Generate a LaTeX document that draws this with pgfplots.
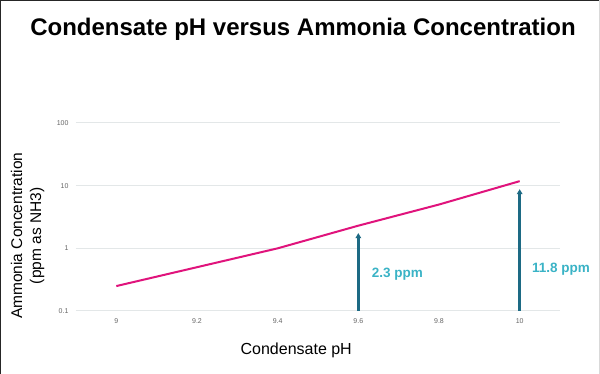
\documentclass[border=0pt]{standalone}
\usepackage{pgfplots}
\pgfplotsset{compat=1.18}
\usepackage{fontspec}
\setmainfont{Liberation Sans}
\usetikzlibrary{arrows.meta}
\definecolor{linec}{HTML}{E0137C}
\definecolor{arrowc}{HTML}{1D6A84}
\definecolor{labc}{HTML}{3AB3C6}
\definecolor{gridc}{HTML}{E3E7E8}
\definecolor{tickc}{HTML}{666666}
\begin{document}
\begin{tikzpicture}[x=1pt,y=1pt]
\path[use as bounding box] (0,0) rectangle (600,374);
\fill[white] (0,0) rectangle (600,374);
\draw[line width=2pt,black!85] (0,0) -- (0,374) -- (600,374);
\draw[line width=0.8pt,black!15] (599,374) -- (599,0);
\node[font=\fontsize{24}{28}\selectfont\bfseries] at (303,345) {Condensate pH versus Ammonia Concentration};
\begin{axis}[
  at={(76pt,63pt)}, anchor=south west,
  scale only axis, width=484pt, height=188pt,
  xmin=8.9, xmax=10.1,
  ymode=log, ymin=0.1, ymax=100,
  xtick={9,9.2,9.4,9.6,9.8,10},
  xticklabels={9,9.2,9.4,9.6,9.8,10},
  ytick={0.1,1,10,100},
  yticklabels={0.1,1,10,100},
  minor ytick={},
  yminorticks=false,
  ymajorgrids, grid style={gridc, line width=1pt},
  major tick length=0pt, minor tick length=0pt,
  tick style={draw=none},
  axis line style={draw=none},
  tick label style={font=\fontsize{7}{8}\selectfont, text=tickc},
  yticklabel style={xshift=-4pt},
  xticklabel style={yshift=-4pt},
  xlabel={Condensate pH},
  xlabel style={font=\fontsize{16}{18}\selectfont, at={(axis description cs:0.455,0)}, anchor=center, yshift=-39pt},
  ylabel={Ammonia Concentration\\(ppm as NH3)},
  ylabel style={font=\fontsize{15.5}{19}\selectfont, align=center, at={(axis description cs:-0.058,0.40)}, anchor=south},
  clip=false,
  /pgf/number format/assume math mode=true,
]
\addplot[linec, line width=2pt] coordinates {
(9.0,0.25) (9.2,0.5) (9.4,1.0) (9.6,2.3) (9.8,5.0) (10.0,11.8)
};
\addplot[arrowc, line width=2.5pt, -{Triangle[length=5pt,width=5.5pt]}] coordinates {(9.6,0.1) (9.6,1.75)};
\addplot[arrowc, line width=2.5pt, -{Triangle[length=5pt,width=5.5pt]}] coordinates {(10.0,0.1) (10.0,8.8)};
\node[anchor=west, text=labc, font=\fontsize{13.5}{15}\selectfont\bfseries] at (axis cs:9.625,0.39) {2.3 ppm};
\node[anchor=west, text=labc, font=\fontsize{13.5}{15}\selectfont\bfseries] at (axis cs:10.022,0.47) {11.8 ppm};
\end{axis}
\end{tikzpicture}
\end{document}
